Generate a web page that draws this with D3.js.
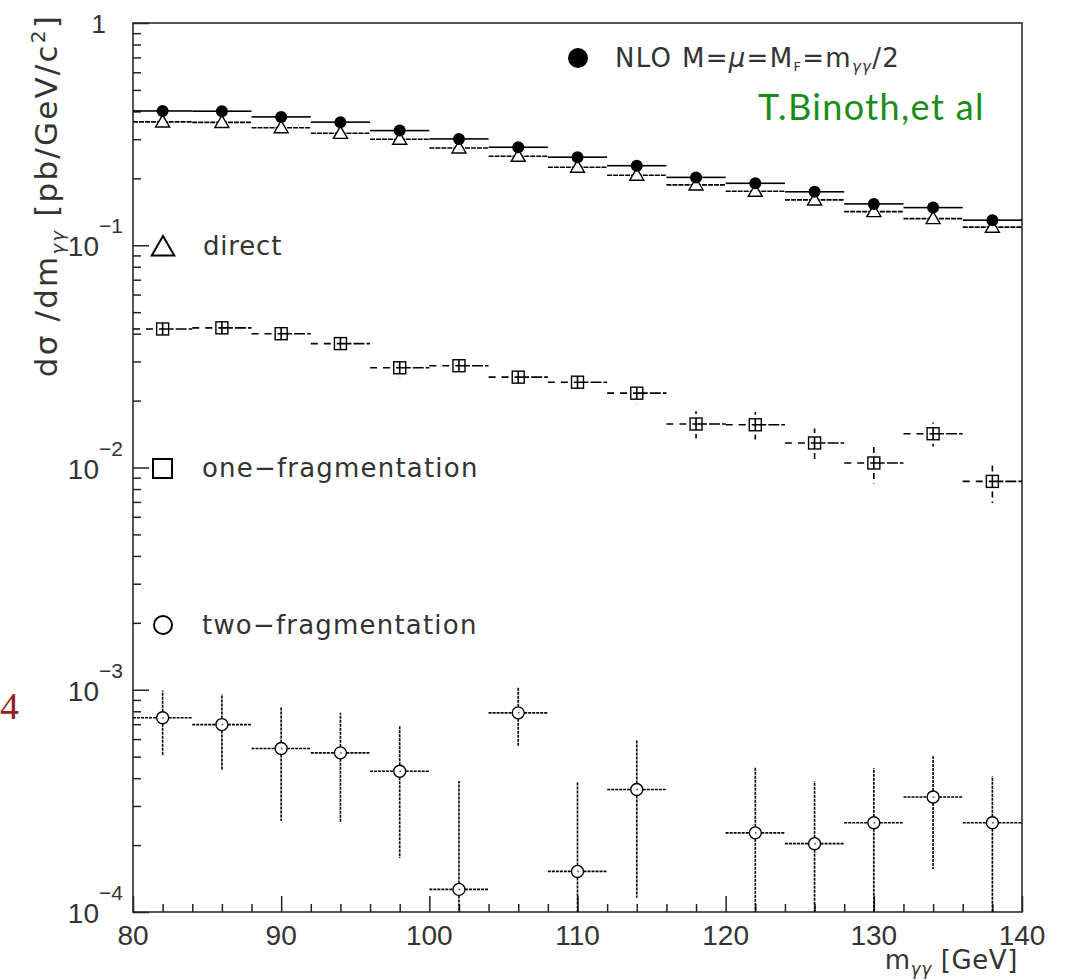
<!DOCTYPE html>
<html><head><meta charset="utf-8">
<script src="https://cdn.jsdelivr.net/npm/d3@7"></script>
<style>body{margin:0;background:#fff}svg{display:block}</style>
</head><body>
<svg id="c" width="1067" height="980"></svg>
<script>
// ---- data ----
const binCenters = [82,86,90,94,98,102,106,110,114,118,122,126,130,134,138];
const binHalfWidth = 2;
const nlo = [0.402,0.401,0.378,0.358,0.328,0.301,0.276,0.249,0.228,0.202,0.190,0.174,0.1535,0.1477,0.1297];
const direct = [0.359,0.357,0.338,0.319,0.300,0.274,0.2515,0.2245,0.2066,0.1869,0.175,0.160,0.1417,0.1318,0.1206];
const oneFrag = [0.0420,0.0425,0.0400,0.0361,0.0281,0.0287,0.0255,0.0242,0.0216,0.01569,0.01557,0.01289,0.01048,0.01419,0.00866];
const oneFragErr = [0.0032,0.0030,0.0030,0.0031,0.0028,0.0027,0.00255,0.0024,0.0022,0.0022,0.0022,0.0021,0.0020,0.00175,0.00173];
const twoFrag = [7.48e-4,6.97e-4,5.44e-4,5.20e-4,4.30e-4,1.264e-4,7.87e-4,1.523e-4,3.56e-4,null,2.27e-4,2.03e-4,2.52e-4,3.29e-4,2.52e-4];
const twoFragErr = [2.45e-4,2.60e-4,2.87e-4,2.67e-4,2.55e-4,2.62e-4,2.33e-4,2.30e-4,2.40e-4,null,2.21e-4,1.85e-4,1.93e-4,1.73e-4,1.56e-4];
const xTickMajor = [80,90,100,110,120,130,140];
const yDecades = [1e-4,1e-3,1e-2,1e-1,1];
const yDecadeExp = ["−4","−3","−2","−1",""];

// ---- layout ----
const svg = d3.select("#c");
const X0 = 133, X1 = 1022, Y0 = 912, Y1 = 23;
const x = d3.scaleLinear().domain([80,140]).range([X0,X1]);
const y = d3.scaleLog().domain([1e-4,1]).range([Y0,Y1]);
const ink = "#222", txt = "#333";
const FONT = "DejaVu Sans, sans-serif";
const NUMF = "Liberation Sans, Arial, sans-serif";

// frame
svg.append("rect").attr("x",X0).attr("y",Y1).attr("width",X1-X0).attr("height",Y0-Y1)
  .attr("fill","none").attr("stroke","#444").attr("stroke-width",1.8);

// axes ticks (inward)
const minorY = [];
for (let e=-4;e<0;e++) for (let k=2;k<=9;k++) minorY.push(k*Math.pow(10,e));
const gy = svg.append("g").attr("transform",`translate(${X0},0)`);
gy.call(d3.axisRight(y).tickValues(yDecades).tickSize(16).tickFormat(""));
const gy2 = svg.append("g").attr("transform",`translate(${X0},0)`);
gy2.call(d3.axisRight(y).tickValues(minorY).tickSize(8).tickFormat(""));
const minorX = d3.range(82,140,2).filter(v=>v%10!==0);
const gx = svg.append("g").attr("transform",`translate(0,${Y0})`);
gx.call(d3.axisTop(x).tickValues(xTickMajor).tickSize(16).tickFormat(""));
const gx2 = svg.append("g").attr("transform",`translate(0,${Y0})`);
gx2.call(d3.axisTop(x).tickValues(minorX).tickSize(8).tickFormat(""));
svg.selectAll(".domain").remove();
svg.selectAll(".tick line").attr("stroke",ink).attr("stroke-width",1.5);

// x tick labels
svg.append("g").selectAll("text").data(xTickMajor).join("text")
  .attr("x",d=>x(d)).attr("y",Y0+33).attr("text-anchor","middle")
  .attr("font-family",NUMF).attr("font-size",28).attr("fill",txt)
  .text(d=>d);

// y tick labels
yDecades.forEach((d,i)=>{
  if (d===1) {
    svg.append("text").attr("x",106).attr("y",y(d)+10).attr("text-anchor","end")
      .attr("font-family",NUMF).attr("font-size",26).attr("fill",txt).text("1");
  } else {
    svg.append("text").attr("x",99).attr("y",y(d)+11).attr("text-anchor","end")
      .attr("font-family",NUMF).attr("font-size",28).attr("fill",txt).text("10");
    svg.append("text").attr("x",99).attr("y",y(d)-12)
      .attr("font-family",NUMF).attr("font-size",21).attr("fill",txt).text(yDecadeExp[i]);
  }
});

// axis titles
const yt = svg.append("text").attr("transform","translate(57,14) rotate(-90)").attr("text-anchor","end")
  .attr("font-family",FONT).attr("font-size",31).attr("letter-spacing",2.2).attr("fill",txt);
yt.append("tspan").text("dσ /dm");
yt.append("tspan").attr("font-size",18).attr("dy",7).attr("font-style","italic").text("γγ");
yt.append("tspan").attr("dy",-7).text("  [pb/GeV/c");
yt.append("tspan").attr("font-size",20).attr("dy",-12).text("2");
yt.append("tspan").attr("dy",12).text("]");

const xt = svg.append("text").attr("x",1018).attr("y",969).attr("text-anchor","end")
  .attr("font-family",FONT).attr("font-size",26).attr("letter-spacing",0.6).attr("fill",txt);
xt.append("tspan").text("m");
xt.append("tspan").attr("font-size",17).attr("dy",6).attr("font-style","italic").text("γγ");
xt.append("tspan").attr("dy",-6).text(" [GeV]");

// ---- series ----
const plot = svg.append("g");
function hlines(g, vals, cls, styleL, styleR, gap) {
  const data = binCenters.map((c,i)=>({c, v: vals[i]})).filter(d=>d.v!=null);
  g.selectAll("line."+cls+"L").data(data).join("line").attr("class",cls+"L")
    .attr("x1",d=>x(d.c-binHalfWidth)).attr("x2",d=>x(d.c)-gap)
    .attr("y1",d=>y(d.v)).attr("y2",d=>y(d.v))
    .attr("stroke","#000").attr("stroke-width",1.6).attr("stroke-dasharray",styleL);
  g.selectAll("line."+cls+"R").data(data).join("line").attr("class",cls+"R")
    .attr("x1",d=>x(d.c)+gap).attr("x2",d=>x(d.c+binHalfWidth))
    .attr("y1",d=>y(d.v)).attr("y2",d=>y(d.v))
    .attr("stroke","#000").attr("stroke-width",1.6).attr("stroke-dasharray",styleR);
}
function vbars(g, vals, errs, cls, dash, gap) {
  const data = binCenters.map((c,i)=>({c, v: vals[i], e: errs[i]})).filter(d=>d.v!=null);
  g.selectAll("line."+cls+"U").data(data).join("line").attr("class",cls+"U")
    .attr("x1",d=>x(d.c)).attr("x2",d=>x(d.c))
    .attr("y1",d=>y(d.v)-gap).attr("y2",d=>Math.min(y(d.v)-gap, y(d.v+d.e)))
    .attr("stroke","#000").attr("stroke-width",1.6).attr("stroke-dasharray",dash);
  g.selectAll("line."+cls+"D").data(data).join("line").attr("class",cls+"D")
    .attr("x1",d=>x(d.c)).attr("x2",d=>x(d.c))
    .attr("y1",d=>y(d.v)+gap).attr("y2",d=>Math.max(y(d.v)+gap, y(Math.max(d.v-d.e,1e-4))))
    .attr("stroke","#000").attr("stroke-width",1.6).attr("stroke-dasharray",dash);
}

// two-fragmentation
const g2 = plot.append("g");
hlines(g2, twoFrag, "t", "3,1", "3,1", 6);
vbars(g2, twoFrag, twoFragErr, "tv", "3,1", 6);
const twoPts = binCenters.map((c,i)=>({c,v:twoFrag[i]})).filter(d=>d.v!=null);
g2.selectAll("circle.m").data(twoPts).join("circle").attr("class","m")
  .attr("cx",d=>x(d.c)).attr("cy",d=>y(d.v)).attr("r",6)
  .attr("fill","#fff").attr("stroke","#000").attr("stroke-width",1.4);
g2.selectAll("circle.dot").data(twoPts).join("circle").attr("class","dot")
  .attr("cx",d=>x(d.c)+0.5).attr("cy",d=>y(d.v)).attr("r",0.9).attr("fill","#555");

// one-fragmentation
const g1 = plot.append("g");
hlines(g1, oneFrag, "o", "7,6", "11,2", 0);
vbars(g1, oneFrag, oneFragErr, "ov", "6,4", 0);
g1.selectAll("rect").data(binCenters.map((c,i)=>({c,v:oneFrag[i]}))).join("rect")
  .attr("x",d=>x(d.c)-6).attr("y",d=>y(d.v)-6).attr("width",12).attr("height",12)
  .attr("fill","none").attr("stroke","#000").attr("stroke-width",1.4);

// direct
const gd = plot.append("g");
hlines(gd, direct, "d", "5,1", "5,1", 0);
const tri = d3.symbol().type(d3.symbolTriangle).size(85);
gd.selectAll("path").data(binCenters.map((c,i)=>({c,v:direct[i]}))).join("path")
  .attr("d",tri).attr("transform",d=>`translate(${x(d.c)},${y(d.v)+1})`)
  .attr("fill","#fff").attr("stroke","#000").attr("stroke-width",1.4);

// NLO
const gn = plot.append("g");
hlines(gn, nlo, "n", null, null, 0);
gn.selectAll("circle").data(binCenters.map((c,i)=>({c,v:nlo[i]}))).join("circle")
  .attr("cx",d=>x(d.c)).attr("cy",d=>y(d.v)).attr("r",6)
  .attr("fill","#000");

// ---- legends ----
const lg = svg.append("g").attr("font-family",FONT).attr("fill",txt);
lg.append("circle").attr("cx",578).attr("cy",58).attr("r",10).attr("fill","#000");
const nt = lg.append("text").attr("x",615).attr("y",67).attr("font-size",26).attr("letter-spacing",1.3);
nt.append("tspan").text("NLO M=");
nt.append("tspan").attr("font-style","italic").text("μ");
nt.append("tspan").text("=M");
nt.append("tspan").attr("font-size",13).attr("dy",4).text("F");
nt.append("tspan").attr("dy",-4).text("=m");
nt.append("tspan").attr("font-size",15).attr("dy",5).attr("font-style","italic").text("γγ");
nt.append("tspan").attr("dy",-5).text("/2");
svg.append("text").attr("x",985).attr("y",120).attr("text-anchor","end")
  .attr("font-family","Lato, Open Sans, sans-serif").attr("font-size",36).attr("letter-spacing",1.4).attr("fill","#1a8c1a")
  .text("T.Binoth,et al");

const triL = d3.symbol().type(d3.symbolTriangle).size(220);
lg.append("path").attr("d",triL).attr("transform","translate(163,249)")
  .attr("fill","none").attr("stroke","#000").attr("stroke-width",2);
lg.append("text").attr("x",203).attr("y",255).attr("font-size",26).attr("letter-spacing",0.8).text("direct");
lg.append("rect").attr("x",153).attr("y",459).attr("width",19).attr("height",19)
  .attr("fill","none").attr("stroke","#000").attr("stroke-width",2);
lg.append("text").attr("x",202).attr("y",477).attr("font-size",26).attr("letter-spacing",1.2).text("one−fragmentation");
lg.append("circle").attr("cx",163).attr("cy",625).attr("r",9)
  .attr("fill","none").attr("stroke","#000").attr("stroke-width",2);
lg.append("text").attr("x",202).attr("y",634).attr("font-size",26).attr("letter-spacing",1.2).text("two−fragmentation");

// stray page number fragment
svg.append("text").attr("x",0).attr("y",719)
  .attr("font-family","Liberation Serif, serif").attr("font-size",38).attr("fill","#9b1c1c").text("4");
</script>
</body></html>
